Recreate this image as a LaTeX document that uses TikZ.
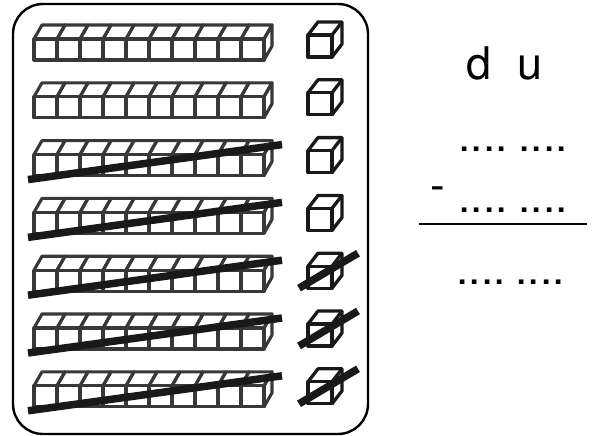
\documentclass[tikz,border=0pt]{standalone}
\usepackage{fontspec}
\setmainfont{TeX Gyre Heros}

\begin{document}
\begin{tikzpicture}[x=1pt,y=-1pt,
	rodline/.style={draw=black!78,line width=3.1pt,line join=round},
	cubeline/.style={draw=black!90,line width=3.3pt,line join=round},
	strike/.style={draw=black!90,line width=7.5pt},
	digit/.style={inner sep=0pt,anchor=base,font=\fontsize{45}{45}\selectfont},
	dots/.style={inner sep=0pt,anchor=base,font=\fontsize{44}{44}\selectfont}]
	\useasboundingbox (0,0) rectangle (594,436);
	
	\draw[line width=2.4pt,rounded corners=30pt] (13,4) rectangle (368,434);
	
	\foreach \r in {0,...,6}{
		\pgfmathsetmacro{\yy}{39+57.8*\r}
		\pgfmathsetmacro{\yc}{35+57.8*\r}
		\foreach \i in {0,...,9}{
			\draw[rodline] (34+23*\i,\yy) rectangle ++(23,21);
			\draw[rodline] (34+23*\i,\yy) -- ++(8,-14) -- ++(23,0) -- ++(-8,14);
		}
		\draw[rodline] (264,\yy) -- ++(8,-14) -- ++(0,21) -- ++(-8,14);
		\draw[cubeline] (308,\yc) rectangle ++(24,22);
		\draw[cubeline] (308,\yc) -- ++(10,-13) -- ++(24,0) -- ++(0,22) -- ++(-10,13);
		\draw[cubeline] (332,\yc) -- ++(10,-13);
	}
	
	\foreach \r in {2,...,6}
		\draw[strike] (28,{39+57.8*\r+25}) -- (282,{39+57.8*\r-10});
	\foreach \r in {4,5,6}
		\draw[strike] (299,{35+57.8*\r+22}) -- (358,{35+57.8*\r-13});
	
	\node[digit] (D) at (479,80) {d};
	\node[digit] (U) at (530,80) {u};
	
	\node[dots] (A1) at (483,151) {....};
	\node[dots] (A2) at (543,151) {....};
	\node[dots] (M) at (437.5,200) {-};
	\node[dots] (B1) at (483,212) {....};
	\node[dots] (B2) at (543,212) {....};
	\node[dots] (C1) at (481,284) {....};
	\node[dots] (C2) at (540,284) {....};
	
	\coordinate (L) at (419,224);
	\coordinate (R) at (587,224);
	\draw[line width=2pt] (L) -- (R);
\end{tikzpicture}
\end{document}
